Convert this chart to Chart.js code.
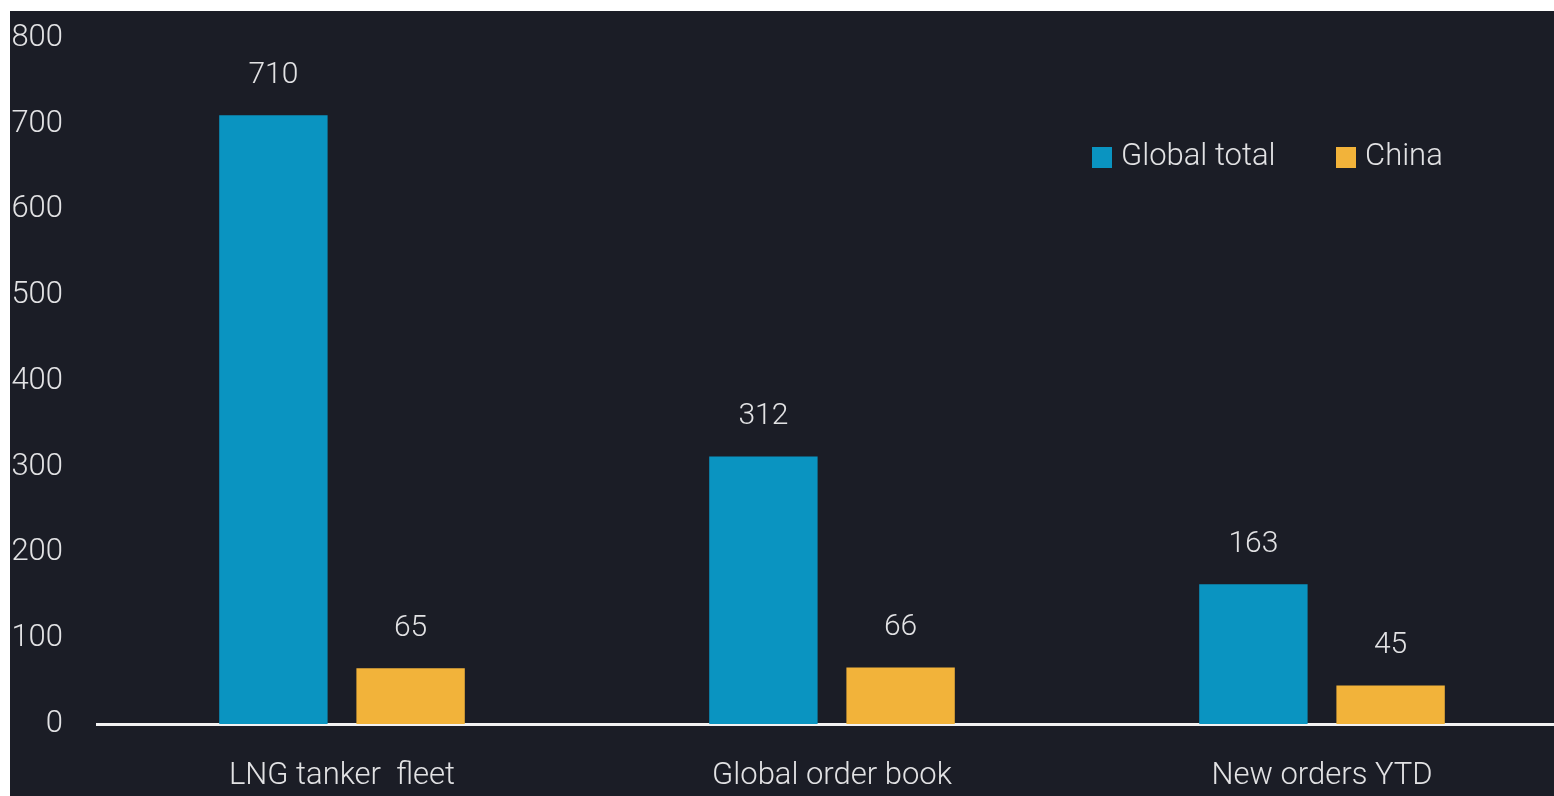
<!DOCTYPE html>
<html>
<head>
<meta charset="utf-8">
<script src="https://cdn.jsdelivr.net/npm/chart.js@4/dist/chart.umd.min.js"></script>
<style>
  html, body { margin: 0; padding: 0; background: #ffffff; overflow: hidden; }
  #chart { position: absolute; left: 10px; top: 11px; background: #1b1d26; }
</style>
</head>
<body>
<canvas id="chart" width="1557" height="785"></canvas>
<script>
const categories = ["LNG tanker  fleet", "Global order book", "New orders YTD"];
const globalTotal = [710, 312, 163];
const china = [65, 66, 45];
const yTicks = [0, 100, 200, 300, 400, 500, 600, 700, 800];

const textColor = "#e2e2e4";
const fontFamily = "Roboto, 'Liberation Sans', sans-serif";

// numbers above each bar
const valueLabels = {
  id: "valueLabels",
  afterDatasetsDraw(chart) {
    const ctx = chart.ctx;
    ctx.save();
    ctx.fillStyle = textColor;
    ctx.font = "300 30px " + fontFamily;
    ctx.textAlign = "center";
    ctx.textBaseline = "bottom";
    chart.data.datasets.forEach((ds, i) => {
      chart.getDatasetMeta(i).data.forEach((bar, j) => {
        ctx.fillText(ds.data[j], bar.x, bar.y - 25);
      });
    });
    ctx.restore();
  }
};

// legend sitting inside the plot, top right
const insideLegend = {
  id: "insideLegend",
  afterDraw(chart) {
    const ctx = chart.ctx;
    const y = 146;
    const starts = [1082, 1326];
    ctx.save();
    ctx.font = "300 31px " + fontFamily;
    ctx.textBaseline = "middle";
    chart.data.datasets.forEach((ds, i) => {
      const x = starts[i];
      ctx.fillStyle = ds.backgroundColor;
      ctx.fillRect(x, y - 10, 20, 21);
      ctx.fillStyle = textColor;
      ctx.fillText(ds.label, x + 29, y);
    });
    ctx.restore();
  }
};

new Chart(document.getElementById("chart"), {
  type: "bar",
  data: {
    labels: categories,
    datasets: [
      { label: "Global total", data: globalTotal, backgroundColor: "#0a94c1" },
      { label: "China", data: china, backgroundColor: "#f2b33a" }
    ]
  },
  options: {
    responsive: false,
    animation: false,
    categoryPercentage: 0.56,
    barPercentage: 0.79,
    layout: { padding: { top: 27, right: 0, left: 0, bottom: 0 } },
    plugins: {
      legend: { display: false },
      tooltip: { enabled: false }
    },
    scales: {
      x: {
        grid: { display: false, drawTicks: false },
        border: { display: true, color: "#f2f2f2", width: 3 },
        ticks: { color: textColor, font: { family: fontFamily, size: 31, weight: "300" }, padding: 34 },
        afterFit: (axis) => { axis.height = 72; }
      },
      y: {
        min: 0,
        max: 800,
        afterBuildTicks: (axis) => { axis.ticks = yTicks.map(v => ({ value: v })); },
        grid: { display: false, drawTicks: false },
        border: { display: false },
        ticks: { color: textColor, font: { family: fontFamily, size: 31, weight: "300" }, padding: 34 },
        afterFit: (axis) => {
          axis.width = 87;
          axis.paddingTop = 0;
          axis.paddingBottom = 0;
        }
      }
    }
  },
  plugins: [valueLabels, insideLegend]
});
</script>
</body>
</html>
